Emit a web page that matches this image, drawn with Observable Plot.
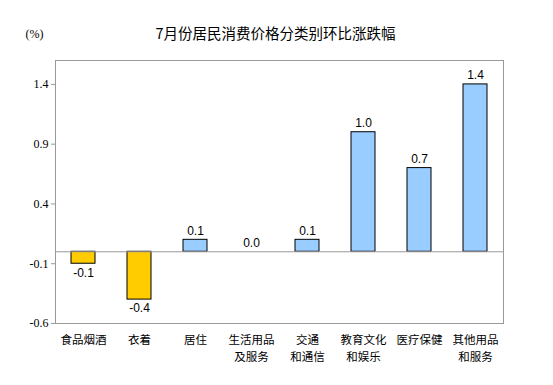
<!DOCTYPE html>
<html><head><meta charset="utf-8">
<script src="https://cdn.jsdelivr.net/npm/d3@7"></script>
<script src="https://cdn.jsdelivr.net/npm/@observablehq/plot@0.6"></script>
<style>body{margin:0;background:#fff}</style>
</head><body><div id="chart"></div>
<script>
const categories = ["食品烟酒","衣着","居住","生活用品及服务","交通和通信","教育文化和娱乐","医疗保健","其他用品和服务"];
const labelLine1 = ["食品烟酒","衣着","居住","生活用品","交通","教育文化","医疗保健","其他用品"];
const labelLine2 = ["","","","及服务","和通信","和娱乐","",  "和服务"];
const values = [-0.1,-0.4,0.1,0.0,0.1,1.0,0.7,1.4];
const yTicks = [-0.6,-0.1,0.4,0.9,1.4];
const title = "7月份居民消费价格分类别环比涨跌幅";
const unit = "(%)";

const data = categories.map((c,i)=>({c, v: values[i], l1: labelLine1[i], l2: labelLine2[i]}));
const cjk = "'Noto Sans CJK SC', sans-serif";
const lab = "'Liberation Sans', Arial, sans-serif";

const chart = Plot.plot({
  width: 553, height: 385,
  marginLeft: 55, marginRight: 50, marginTop: 60, marginBottom: 62,
  style: {fontFamily: cjk, background: "#fff"},
  x: {domain: categories, paddingInner: 0.57, paddingOuter: 0.285, label: null, axis: null},
  y: {domain: [-0.6, 1.6], label: null},
  marks: [
    Plot.barY(data.filter(d=>d.v!==0), {x:"c", y:"v", fill: d=>d.v<0?"#FFCC00":"#99CCFF", stroke:"#000", strokeWidth:1}),
    Plot.ruleY([0], {stroke:"#999"}),
    Plot.frame({stroke:"#999"}),
    Plot.axisY({ticks: yTicks, tickSize: 4, tickFormat: d=>d.toFixed(1), fontFamily:"'Liberation Serif', serif", fontSize: 12, stroke:"#999", color:"#000", tickPadding: 3}),
    Plot.text(data, {x:"c", frameAnchor:"bottom", dy: 17, text:"l1", lineAnchor:"middle", fontSize: 11.5, fontFamily: cjk, fill:"#000"}),
    Plot.text(data.filter(d=>d.l2), {x:"c", frameAnchor:"bottom", dy: 34, text:"l2", lineAnchor:"middle", fontSize: 11.5, fontFamily: cjk, fill:"#000"}),
    Plot.text(data.filter(d=>d.v>=0), {x:"c", y:"v", text: d=>d.v.toFixed(1), dy: -9, lineAnchor: "middle", fontFamily: lab, fontSize: 12, fill:"#000"}),
    Plot.text(data.filter(d=>d.v<0), {x:"c", y:"v", text: d=>d.v.toFixed(1), dy: 9, lineAnchor: "middle", fontFamily: lab, fontSize: 12, fill:"#000"}),
    Plot.text([title], {frameAnchor:"top-left", dx: 220, dy: -26, text: d=>d, fontSize: 14.5, fontFamily: cjk, fill:"#000", textAnchor:"middle", lineAnchor:"middle"}),
    Plot.text([unit], {frameAnchor:"top-left", dx: -21, dy: -26, text: d=>d, fontSize: 12, fontFamily:"'Liberation Serif', serif", fill:"#000", textAnchor:"middle", lineAnchor:"middle"})
  ]
});
document.getElementById("chart").appendChild(chart);
</script></body></html>
